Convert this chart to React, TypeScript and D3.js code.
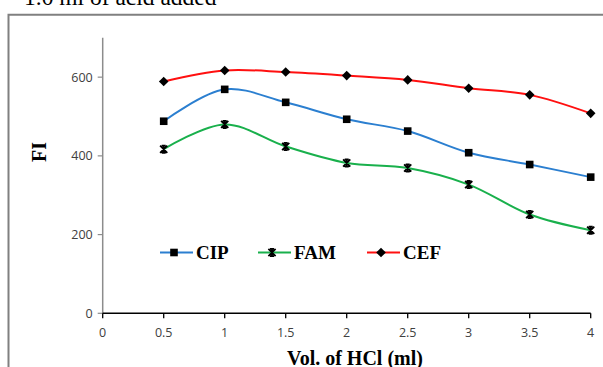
import React from "react";
import * as d3 from "d3";

const volumes = [0.5, 1, 1.5, 2, 2.5, 3, 3.5, 4];
const cipValues = [488, 569, 536, 493, 463, 408, 378, 346];
const famValues = [417, 480, 424, 382, 369, 327, 251, 211];
const cefValues = [589, 617, 613, 604, 593, 572, 555, 508];
const xTicks = [0, 0.5, 1, 1.5, 2, 2.5, 3, 3.5, 4];
const yTicks = [0, 200, 400, 600];
const seriesNames = ["CIP", "FAM", "CEF"];

const W = 603;
const H = 367;

function Marker({ kind, x, y }: { kind: string; x: number; y: number }) {
  if (kind === "square") {
    return <rect x={x - 3.8} y={y - 3.8} width={7.6} height={7.6} fill="#000" />;
  }
  if (kind === "diamond") {
    return (
      <path
        d={`M${x},${y - 4.8}L${x + 4.8},${y}L${x},${y + 4.8}L${x - 4.8},${y}Z`}
        fill="#000"
      />
    );
  }
  // asterisk / star marker
  const s = 3.6;
  return (
    <path
      d={`M${x - s},${y - s}L${x + s},${y + s}M${x - s},${y + s}L${x + s},${y - s}M${x},${y - s - 0.8}L${x},${y + s + 0.8}M${x - 2},${y - s}L${x + 2},${y - s}M${x - 2},${y + s}L${x + 2},${y + s}`}
      stroke="#000"
      strokeWidth={1.8}
      fill="none"
    />
  );
}

export default function App() {
  const x = d3.scaleLinear().domain([0, 4]).range([102.7, 590.7]);
  const y = d3.scaleLinear().domain([0, 700]).range([313.3, 37.8]);

  const series = [
    { name: seriesNames[0], values: cipValues, color: "#2b7fd0", marker: "square" },
    { name: seriesNames[1], values: famValues, color: "#19b04c", marker: "star" },
    { name: seriesNames[2], values: cefValues, color: "#ff1010", marker: "diamond" },
  ];

  const line = d3
    .line<[number, number]>()
    .x((d) => x(d[0]))
    .y((d) => y(d[1]))
    .curve(d3.curveCatmullRom.alpha(0.5));

  const legendX = [160, 258, 367];
  const legendY = 252.5;

  const sansFont = "'Open Sans', 'DejaVu Sans', sans-serif";
  const serifFont = "'Liberation Serif', 'Times New Roman', serif";

  return (
    <svg
      width={W}
      height={H}
      style={{ position: "absolute", left: 0, top: 0, background: "#fff" }}
    >
      <rect x={0} y={0} width={W} height={H} fill="#fff" />
      {/* title (clipped at top) */}
      <text x={24} y={5} fontFamily={serifFont} fontSize={23.5} fill="#000">
        1.0 ml of acid added
      </text>
      {/* outer frame */}
      <path d={`M8.5,${H}L8.5,14.8L${W},14.8`} stroke="#808080" strokeWidth={2} fill="none" />

      {/* y axis */}
      <line x1={x(0)} x2={x(0)} y1={y(700)} y2={y(0)} stroke="#8c8c8c" strokeWidth={1.5} />
      {yTicks.map((t) => (
        <g key={"y" + t}>
          <line x1={x(0) - 5} x2={x(0)} y1={y(t)} y2={y(t)} stroke="#8c8c8c" strokeWidth={1.2} />
          <text
            x={x(0) - 10}
            y={y(t)}
            dy="0.35em"
            textAnchor="end"
            fontFamily={sansFont}
            fontSize={12.5}
            fill="#404040"
          >
            {t}
          </text>
        </g>
      ))}

      {/* x axis */}
      <line x1={x(0)} x2={x(4)} y1={y(0)} y2={y(0)} stroke="#000" strokeWidth={1.6} />
      {xTicks.map((t) => (
        <g key={"x" + t}>
          <line x1={x(t)} x2={x(t)} y1={y(0)} y2={y(0) + 5} stroke="#000" strokeWidth={1.3} />
          <text
            x={x(t)}
            y={333}
            dy="0.35em"
            textAnchor="middle"
            fontFamily={sansFont}
            fontSize={12.5}
            fill="#404040"
          >
            {t}
          </text>
        </g>
      ))}

      {/* axis titles */}
      <text
        transform={`translate(45.5,152) rotate(-90)`}
        textAnchor="middle"
        fontFamily={serifFont}
        fontWeight="bold"
        fontSize={20}
        fill="#000"
      >
        FI
      </text>
      <text
        x={355}
        y={365}
        textAnchor="middle"
        fontFamily={serifFont}
        fontWeight="bold"
        fontSize={20}
        fill="#000"
      >
        Vol. of HCl (ml)
      </text>

      {/* series */}
      {series.map((s) => {
        const pts = volumes.map((v, i) => [v, s.values[i]] as [number, number]);
        return (
          <g key={s.name}>
            <path d={line(pts) || ""} stroke={s.color} strokeWidth={2} fill="none" />
            {pts.map((p, i) => (
              <Marker key={i} kind={s.marker} x={x(p[0])} y={y(p[1])} />
            ))}
          </g>
        );
      })}

      {/* legend */}
      {series.map((s, i) => (
        <g key={"lg" + s.name}>
          <line
            x1={legendX[i]}
            x2={legendX[i] + 33}
            y1={legendY}
            y2={legendY}
            stroke={s.color}
            strokeWidth={2}
          />
          <Marker kind={s.marker} x={legendX[i] + 14} y={legendY} />
          <text
            x={legendX[i] + 36}
            y={legendY}
            dy="0.35em"
            fontFamily={serifFont}
            fontWeight="bold"
            fontSize={19}
            fill="#000"
          >
            {s.name}
          </text>
        </g>
      ))}
    </svg>
  );
}
